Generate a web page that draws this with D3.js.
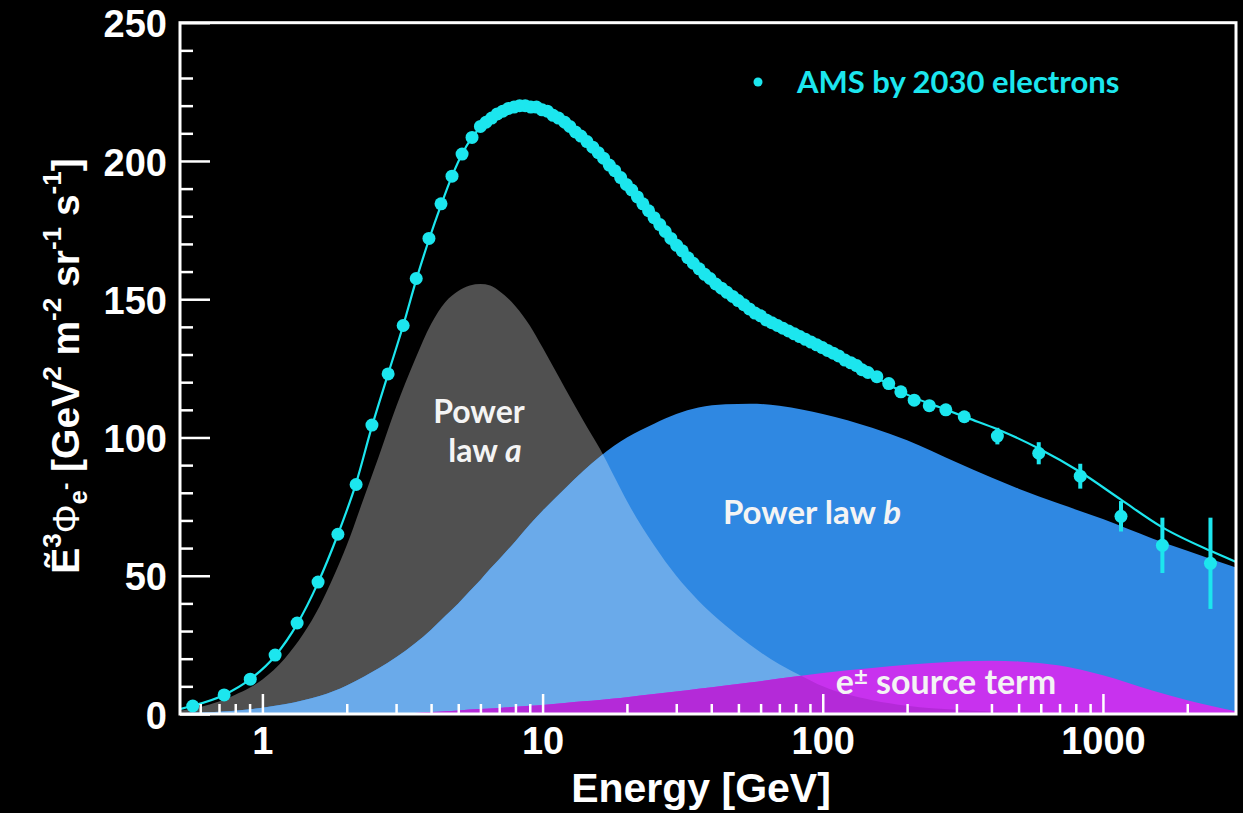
<!DOCTYPE html>
<html>
<head>
<meta charset="utf-8">
<script src="https://cdn.jsdelivr.net/npm/d3@7"></script>
<style>
  html, body { margin: 0; padding: 0; background: #000; }
  svg { display: block; }
</style>
</head>
<body>
<div id="chart"></div>
<script>
var compE = [0.508, 0.6, 0.7, 0.8, 0.9, 1.0, 1.2, 1.4, 1.6, 1.8, 2.0, 2.3, 2.6, 3.0, 3.5, 4.0, 4.5, 5.0, 5.5, 6.0,
             6.5, 7.0, 8.0, 9.0, 10, 12, 14, 16, 18, 20, 25, 30, 36, 45, 55, 70, 85, 100, 150, 200,
             300, 400, 500, 700, 1000, 1500, 2000, 2985];
// power law a (grey)
var greyV = [1.2, 2.5, 4.5, 7, 9.5, 12.5, 20, 29, 39, 50, 61, 78, 93, 111, 128, 141, 149, 153, 155, 155.5,
             155, 153, 147.5, 140.5, 132.5, 118, 106, 96, 86, 77, 61, 50, 41, 32, 25, 18, 13.5, 10, 5, 3,
             1.5, 0.9, 0.6, 0.3, 0.15, 0.05, 0, 0];
// power law b (blue)
var blueV = [0.3, 0.5, 0.8, 1.2, 1.7, 2.3, 3.5, 5, 6.5, 8.3, 10.3, 13.5, 16.5, 20.5, 25.5, 30.5, 35.5, 40, 44.5, 48.5,
             52.5, 56, 62.5, 68.5, 73.5, 81.5, 88, 93, 97, 100, 105, 108.5, 110.8, 112, 112.2, 111.5, 110, 108.5, 103.5, 99,
             91, 85.5, 81.5, 76, 70.5, 63.5, 59, 53];
// e+- source term (magenta)
var magV  = [0, 0, 0, 0, 0, 0, 0, 0, 0, 0, 0, 0, 0, 0.1, 0.4, 0.7, 1.0, 1.3, 1.6, 1.8,
             2.0, 2.2, 2.6, 3.0, 3.3, 4.0, 4.6, 5.1, 5.6, 6.1, 7.2, 8.1, 9.1, 10.3, 11.4, 12.8, 13.9, 14.8, 16.6, 17.8,
             19, 19.3, 19, 17.5, 14, 8.5, 5, 1];

// total fit (cyan line)
var fitE = [0.508, 0.56, 0.73, 0.9, 1.11, 1.33, 1.58, 1.86, 2.16, 2.46, 2.81, 3.18, 3.54, 3.93, 4.34, 4.75, 5.16, 5.6, 6.03, 7,
            8, 9, 10.2, 12, 15, 20, 25, 30, 40, 50, 60, 80, 100, 130, 160, 200, 260, 330, 420, 590,
            830, 1160, 1630, 2420, 2985];
var fitV = [1.8, 2.9, 6.9, 12.4, 21, 32.5, 47.5, 65, 83.5, 104, 123, 140.5, 157, 171.5, 184, 194.5, 202.5, 208.5, 212.5, 218,
            219.8, 219.6, 218.2, 214, 205, 190, 179.5, 169.5, 157.5, 149.5, 144, 137.5, 132.5, 126, 121, 115.5, 111, 107, 103, 96,
            87.5, 77.5, 67.5, 59, 55];

// AMS by 2030 electrons (points)
var dataE = [0.564, 0.73, 0.905, 1.11, 1.33, 1.58, 1.86, 2.16, 2.46, 2.81, 3.18, 3.54, 3.93, 4.34, 4.75, 5.16, 5.6,
             6.0, 6.28, 6.58, 6.89, 7.21, 7.55, 7.91, 8.28, 8.67, 9.08, 9.51, 9.96, 10.4, 10.9, 11.4, 12.0, 12.5, 13.1,
             13.7, 14.4, 15.1, 15.8, 16.5, 17.3, 18.1, 19.0, 19.9, 20.8, 21.8, 22.8, 23.9, 25.0, 26.2, 27.4, 28.7, 30.1,
             31.5, 33.0, 34.5, 36.2, 37.9, 39.6, 41.5, 43.5, 45.5, 47.7, 49.9, 52.3, 54.7, 57.3, 60.0, 62.8, 65.8, 68.9,
             72.1, 75.5, 79.1, 82.8, 86.7, 90.8, 95.1, 99.6, 104, 109, 114, 120, 126, 132, 138, 145,
             156, 172, 190, 212, 240, 275, 320,
             420, 590, 830, 1160, 1630, 2420];
var dataV = [2.9, 6.9, 12.6, 21.3, 32.9, 47.7, 65, 83, 104.5, 123, 140.5, 157.5, 172, 184.5, 194.5, 202.5, 208.5,
             212.5, 214, 215.5, 217, 218, 219, 219.5, 220, 220, 219.5, 219.5, 218.5, 218, 216.5, 215.5, 214, 212.5, 210.5,
             209, 207, 205, 203, 201, 198.5, 196.5, 194, 191.5, 189.5, 187, 184.5, 182, 179.5, 177, 174.5, 172, 169.5,
             167.5, 165, 163, 161, 159, 157.5, 155.5, 154, 152.5, 151, 149.5, 148, 146.5, 145, 144, 142.5, 141.5, 140.5,
             139.5, 138.5, 137.5, 136.5, 135.5, 134.5, 133.5, 132.5, 131.5, 130.5, 129.5, 128, 127, 126, 124.5, 123.5,
             122, 119.5, 116.5, 113.5, 111.5, 110, 107.5,
             100.5, 94.3, 86, 71.5, 61, 54.5];
// error bars, only the last six points show one
var errE = [420, 590, 830, 1160, 1630, 2420];
var errV = [3, 4, 4.5, 5.5, 10, 16.5];

var xMajor = [1, 10, 100, 1000];
var xMinor = [0.6, 0.7, 0.8, 0.9, 2, 3, 4, 5, 6, 7, 8, 9, 20, 30, 40, 50, 60, 70, 80, 90,
              200, 300, 400, 500, 600, 700, 800, 900, 2000];
var yMajor = [0, 50, 100, 150, 200, 250];
var yMinor = [10, 20, 30, 40, 60, 70, 80, 90, 110, 120, 130, 140, 160, 170, 180, 190, 210, 220, 230, 240];

var W = 1243, H = 813;
var frameL = 180, frameR = 1236, frameT = 22.7, frameB = 714;
var cyan = '#1ce6ee';

var svg = d3.select('#chart').append('svg')
    .attr('width', W)
    .attr('height', H);
svg.append('rect').attr('width', W).attr('height', H).attr('fill', '#000');

var x = d3.scaleLog().domain([0.508, 2985]).range([frameL, frameR]);
var y = d3.scaleLinear().domain([0, 250]).range([frameB, frameT]);

function series(vals) {
    return compE.map(function(e, i) { return {e: e, v: vals[i]}; });
}
var area = d3.area()
    .x(function(d) { return x(d.e); })
    .y0(y(0))
    .y1(function(d) { return y(d.v); })
    .curve(d3.curveMonotoneX);

var greyPath = area(series(greyV));
var bluePath = area(series(blueV));
var magPath = area(series(magV));

svg.append('clipPath').attr('id', 'clip-grey')
    .append('path').attr('d', greyPath);
svg.append('clipPath').attr('id', 'clip-frame')
    .append('rect').attr('x', frameL).attr('y', frameT)
    .attr('width', frameR - frameL).attr('height', frameB - frameT);

var plot = svg.append('g').attr('clip-path', 'url(#clip-frame)');

plot.append('path').attr('d', greyPath).attr('fill', '#505050');
plot.append('path').attr('d', bluePath).attr('fill', '#2f88e2');
// blue where it lies over power law a
plot.append('path').attr('d', bluePath).attr('fill', '#6aaaea').attr('clip-path', 'url(#clip-grey)');
plot.append('path').attr('d', magPath).attr('fill', '#c832ee');
plot.append('path').attr('d', magPath).attr('fill', '#b42ad8').attr('clip-path', 'url(#clip-grey)');

// ticks
var tickStyle = function(g) {
    g.select('.domain').remove();
    g.selectAll('line').attr('stroke', '#fff').attr('stroke-width', 2.5);
    g.selectAll('text')
        .attr('fill', '#fff')
        .style('font-family', '"Liberation Sans", Arial, sans-serif')
        .style('font-weight', 'bold')
        .style('font-size', '38px');
};

svg.append('g')
    .attr('transform', 'translate(0,' + frameB + ')')
    .call(d3.axisBottom(x).tickValues(xMinor).tickSize(-10).tickFormat(''))
    .call(tickStyle);
svg.append('g')
    .attr('transform', 'translate(0,' + frameB + ')')
    .call(d3.axisBottom(x).tickValues(xMajor).tickSize(-20).tickPadding(13).tickFormat(d3.format('d')))
    .call(tickStyle);
svg.append('g')
    .attr('transform', 'translate(' + frameL + ',0)')
    .call(d3.axisLeft(y).tickValues(yMinor).tickSize(-13).tickFormat(''))
    .call(tickStyle);
svg.append('g')
    .attr('transform', 'translate(' + frameL + ',0)')
    .call(d3.axisLeft(y).tickValues(yMajor).tickSize(-30).tickPadding(13))
    .call(tickStyle)
    .selectAll('text').attr('dy', '0.37em');

svg.append('rect')
    .attr('x', frameL).attr('y', frameT)
    .attr('width', frameR - frameL).attr('height', frameB - frameT)
    .attr('fill', 'none')
    .attr('stroke', '#fff')
    .attr('stroke-width', 3);

// fit line
var fitLine = d3.line()
    .x(function(d) { return x(d.e); })
    .y(function(d) { return y(d.v); })
    .curve(d3.curveMonotoneX);
plot.append('path')
    .attr('d', fitLine(fitE.map(function(e, i) { return {e: e, v: fitV[i]}; })))
    .attr('fill', 'none')
    .attr('stroke', cyan)
    .attr('stroke-width', 2.2);

// data points with error bars
var pts = dataE.map(function(e, i) {
    var k = errE.indexOf(e);
    return {e: e, v: dataV[i], err: k >= 0 ? errV[k] : 0};
});
plot.append('g').selectAll('line')
    .data(pts.filter(function(d) { return d.err > 0; }))
    .enter().append('line')
    .attr('x1', function(d) { return x(d.e); })
    .attr('x2', function(d) { return x(d.e); })
    .attr('y1', function(d) { return y(d.v - d.err); })
    .attr('y2', function(d) { return y(d.v + d.err); })
    .attr('stroke', cyan)
    .attr('stroke-width', 4);
plot.append('g').selectAll('circle')
    .data(pts)
    .enter().append('circle')
    .attr('cx', function(d) { return x(d.e); })
    .attr('cy', function(d) { return y(d.v); })
    .attr('r', 6.5)
    .attr('fill', cyan);

// axis titles
svg.append('text')
    .attr('x', 701).attr('y', 802)
    .attr('text-anchor', 'middle')
    .attr('fill', '#fff')
    .style('font-family', '"Liberation Sans", Arial, sans-serif')
    .style('font-weight', 'bold')
    .style('font-size', '41px')
    .text('Energy [GeV]');

var yt = svg.append('text')
    .attr('transform', 'translate(79,366) rotate(-90)')
    .attr('text-anchor', 'middle')
    .attr('fill', '#fff')
    .style('font-family', '"Liberation Sans", Arial, sans-serif')
    .style('font-weight', 'bold')
    .style('font-size', '39px');
var ytParts = [
    ['\u1EBC', null, null],
    ['3', 26, 18],
    ['\u03A6', 36, 0, 'normal'],
    ['e', 26, -8],
    ['-', 22, 7],
    [' [GeV', null, 0],
    ['2', 26, 18],
    [' m', null, 0],
    ['-2', 26, 18],
    [' sr', null, 0],
    ['-1', 26, 18],
    [' s', null, 0],
    ['-1', 26, 18],
    [']', null, 0]
];
ytParts.forEach(function(p) {
    var t = yt.append('tspan').text(p[0]);
    if (p[1]) t.style('font-size', p[1] + 'px');
    if (p[2]) t.attr('baseline-shift', p[2]);
    if (p[3]) t.style('font-weight', p[3]);
});

// legend
svg.append('circle').attr('cx', 758).attr('cy', 82).attr('r', 4.5).attr('fill', cyan);
svg.append('text')
    .attr('x', 797).attr('y', 93)
    .attr('fill', cyan)
    .style('font-family', 'Lato, "Open Sans", sans-serif')
    .style('font-weight', 'bold')
    .style('font-size', '31px')
    .text('AMS by 2030 electrons');

// component labels
var label = function(xp, yp, size) {
    return svg.append('text')
        .attr('x', xp).attr('y', yp)
        .attr('text-anchor', 'middle')
        .attr('fill', '#f4f4f4')
        .style('font-family', 'Lato, "Open Sans", sans-serif')
        .style('font-weight', 'bold')
        .style('font-size', size + 'px');
};
label(479, 423, 32).text('Power');
var la = label(485, 462, 32);
la.append('tspan').text('law ');
la.append('tspan').style('font-style', 'italic').text('a');
var lb = label(812, 524, 33);
lb.append('tspan').text('Power law ');
lb.append('tspan').style('font-style', 'italic').text('b');
var ls = label(946, 694, 34);
ls.append('tspan').text('e');
ls.append('tspan').style('font-size', '24px').attr('baseline-shift', 9).text('\u00B1');
ls.append('tspan').text(' source term');
</script>
</body>
</html>
